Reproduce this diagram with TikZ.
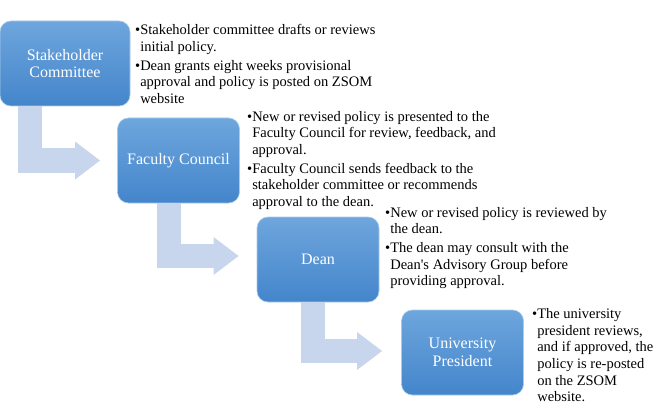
\documentclass[tikz,border=0pt]{standalone}
\usepackage{fontspec}
\setmainfont{Liberation Serif}[Ligatures=TeXOff]
\usetikzlibrary{positioning,arrows.meta,calc}
\definecolor{BoxTop}{RGB}{110,166,221}
\definecolor{BoxBot}{RGB}{68,133,203}
\definecolor{Flow}{RGB}{199,214,236}
\newcommand\bpt{\textbullet}
\newcommand\bgap{\phantom{\textbullet}}

\begin{document}
\begin{tikzpicture}[x=1pt,y=-1pt,
 box/.style={rounded corners=11pt,top color=BoxTop,bottom color=BoxBot,draw=BoxTop!60!white,line width=.6pt,minimum width=122pt,minimum height=85pt,align=center,text=white,font=\fontsize{16}{17.5}\selectfont},
 note/.style={anchor=north west,inner sep=0pt,align=left,font=\fontsize{14.5}{16.6}\selectfont},
 flow/.style={draw=Flow,line width=24pt,-{Triangle[length=25pt,width=36pt]}}]
\useasboundingbox (0,0) rectangle (663,414);
% the four stages
\node[box,minimum width=130pt] (sc) at (65,63.5) {Stakeholder\\Committee};
\node[box] (fc) at (178.5,160.5) {Faculty Council};
\node[box] (dean) at (318,259.5) {Dean};
\node[box] (up) at (462.5,352.5) {University\\President};
% bent arrows between stages
\draw[flow] ($(sc.south west)+(30,0)$) |- ($(fc.west)+(-17,0)$);
\draw[flow] ($(fc.south west)+(52,0)$) |- ($(dean.west)+(-18,-3.5)$);
\draw[flow] ($(dean.south west)+(56,0)$) |- ($(up.west)+(-19,-1.5)$);
% notes
\node[note] (n1) at (135,24.5) {\bpt Stakeholder committee drafts or reviews\\
 \bgap initial policy.\\[2pt]
 \bpt Dean grants eight weeks provisional\\
 \bgap approval and policy is posted on ZSOM\\
 \bgap website};
\node[note] (n2) at (247,111) {\bpt New or revised policy is presented to the\\
 \bgap Faculty Council for review, feedback, and\\
 \bgap approval.\\[2pt]
 \bpt Faculty Council sends feedback to the\\
 \bgap stakeholder committee or recommends\\
 \bgap approval to the dean.};
\node[note] (n3) at (385,207) {\bpt New or revised policy is reviewed by\\
 \bgap the dean.\\[2pt]
 \bpt The dean may consult with the\\
 \bgap Dean's Advisory Group before\\
 \bgap providing approval.};
\node[note] (n4) at (532,308.5) {\bpt The university\\
 \bgap president reviews,\\
 \bgap and if approved, the\\
 \bgap policy is re-posted\\
 \bgap on the ZSOM\\
 \bgap website.};
\end{tikzpicture}
\end{document}
